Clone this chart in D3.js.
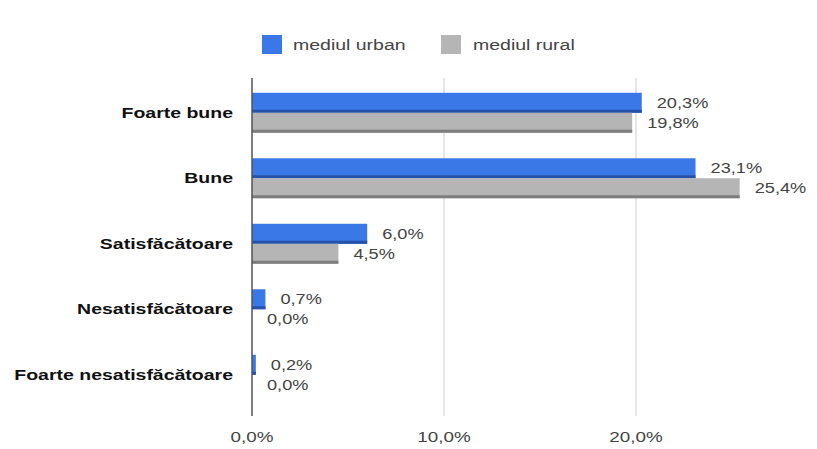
<!DOCTYPE html>
<html><head><meta charset="utf-8">
<script src="https://cdn.jsdelivr.net/npm/d3@7"></script>
<style>body{margin:0;background:#fff}svg{display:block;font-family:"Liberation Sans",Arial,sans-serif}</style>
</head><body><svg id="c" width="817" height="449"></svg>
<script>
const categories = ["Foarte bune","Bune","Satisfăcătoare","Nesatisfăcătoare","Foarte nesatisfăcătoare"];
const seriesNames = ["mediul urban","mediul rural"];
const urban = [20.3,23.1,6.0,0.7,0.2];
const rural = [19.8,25.4,4.5,0.0,0.0];
const tickValues = [0,10,20];
const colors = ["#3b78e7","#b5b5b5"];
const edgeColors = ["#2552a8","#7d7d7d"];

const svg = d3.select("#c");
const SX = 1.3;
const fmt = v => v.toFixed(1).replace(".", ",") + "%";

const x = d3.scaleLinear().domain([0,20]).range([252,636]);
const y = d3.scaleBand().domain(categories).range([80,407.5]).paddingInner(0.39).paddingOuter(0.195);
const ys = d3.scaleBand().domain([0,1]).range([0,y.bandwidth()]);

// gridlines
svg.append("g").selectAll("line").data(tickValues.filter(t=>t>0)).join("line")
  .attr("x1",d=>x(d)).attr("x2",d=>x(d)).attr("y1",78).attr("y2",416)
  .attr("stroke","#cccccc").attr("stroke-width",1);

// stretched text helper
function stext(g, xx, yy, txt, opts){
  const t = g.append("text").attr("transform",`translate(${xx},${yy}) scale(${SX},1)`)
    .text(txt).attr("font-size",opts.size).attr("fill",opts.fill)
    .attr("font-weight",opts.weight||"normal").attr("text-anchor",opts.anchor||"start")
    .attr("dominant-baseline","central");
  return t;
}

const data = categories.map((c,i)=>({c, vals:[urban[i],rural[i]]}));
const gBars = svg.append("g");
data.forEach(d=>{
  d.vals.forEach((v,s)=>{
    const y0 = y(d.c)+ys(s), h = ys.bandwidth();
    const w = Math.max(x(v)-x(0), 0);
    if (w>0){
      gBars.append("rect").attr("x",x(0)).attr("y",y0).attr("width",w).attr("height",h).attr("fill",colors[s]);
      gBars.append("rect").attr("x",x(0)).attr("y",y0+h-3).attr("width",w).attr("height",3).attr("fill",edgeColors[s]);
    }
    stext(gBars, x(v)+15, y0+h/2, fmt(v), {size:14, fill:"#444"});
  });
  stext(gBars, 233, y(d.c)+y.bandwidth()/2, d.c, {size:15, fill:"#111", weight:"bold", anchor:"end"});
});

// baseline
svg.append("line").attr("x1",x(0)).attr("x2",x(0)).attr("y1",78).attr("y2",416)
  .attr("stroke","#555").attr("stroke-width",1.5);

// tick labels
const gT = svg.append("g");
tickValues.forEach(t=> stext(gT, x(t), 437, fmt(t), {size:14.5, fill:"#444", anchor:"middle"}));

// legend
const legX = [262, 441], legTX = [293, 473];
const gL = svg.append("g");
seriesNames.forEach((n,i)=>{
  gL.append("rect").attr("x",legX[i]).attr("y",35).attr("width",20).attr("height",19).attr("fill",colors[i]);
  stext(gL, legTX[i], 45, n, {size:15, fill:"#444"});
});
</script></body></html>
